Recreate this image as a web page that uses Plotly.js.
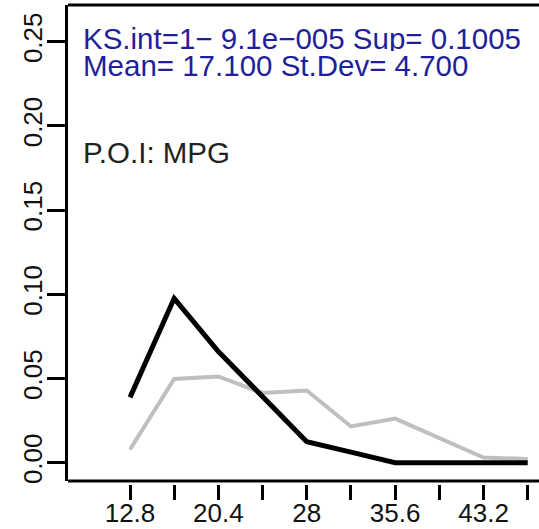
<!DOCTYPE html>
<html>
<head>
<meta charset="utf-8">
<script src="https://cdn.plot.ly/plotly-3.0.1.min.js"></script>
<style>
  html, body { margin: 0; padding: 0; background: #ffffff; }
  #chart { width: 539px; height: 529px; }
</style>
</head>
<body>
<div id="chart"></div>
<script>
// ---- data ----
const mpgValues = [12.8, 16.6, 20.4, 24.2, 28.0, 31.8, 35.6, 39.4, 43.2, 47.0];
const referenceDensity = [0.0078, 0.0497, 0.0512, 0.0414, 0.0429, 0.0215, 0.0262, 0.0145, 0.0031, 0.0022];
const subgroupDensity = [0.0388, 0.0976, 0.066, 0.039, 0.0125, 0.0063, 0.0, 0.0, 0.0, 0.0];
const xTickLabels = ['12.8', '', '20.4', '', '28', '', '35.6', '', '43.2', ''];
const yTickValues = [0.00, 0.05, 0.10, 0.15, 0.20, 0.25];
const yTickLabels = ['0.00', '0.05', '0.10', '0.15', '0.20', '0.25'];
const statLine1 = 'KS.int=1\u2212 9.1e\u2212005 Sup= 0.1005';
const statLine2 = 'Mean= 17.100 St.Dev= 4.700';
const poiLabel = 'P.O.I: MPG';

const FONT = 'Liberation Sans, Arial, Helvetica, sans-serif';
const W = 539, H = 529;
const M = {l: 68, r: 0, t: 5, b: 45};
const plotH = H - M.t - M.b;           // paper height in px
const yDomBottom = 3 / plotH;          // box bottom line slightly above tick start
const py = (px) => (H - M.b - px) / plotH; // pixel y -> paper fraction
const pxX = (px) => (px - M.l) / (W - M.l - M.r);

const traces = [
  {
    x: mpgValues, y: referenceDensity, type: 'scatter', mode: 'lines',
    line: {color: '#bfbfbf', width: 4},
    hoverinfo: 'skip', showlegend: false
  },
  {
    x: mpgValues, y: subgroupDensity, type: 'scatter', mode: 'lines',
    line: {color: '#000000', width: 5},
    hoverinfo: 'skip', showlegend: false
  }
];

const layout = {
  width: W, height: H,
  margin: M,
  paper_bgcolor: '#ffffff', plot_bgcolor: '#ffffff',
  showlegend: false,
  font: {family: FONT, color: '#000000'},
  xaxis: {
    range: [7.469, 47.97],
    anchor: 'free', position: 0,
    tickmode: 'array', tickvals: mpgValues, ticktext: xTickLabels,
    ticks: 'outside', ticklen: 15, tickwidth: 3, tickcolor: '#000000',
    ticklabelstandoff: -9,
    showline: false, showgrid: false, zeroline: false,
    tickfont: {family: FONT, size: 26, color: '#111111'},
    fixedrange: true
  },
  yaxis: {
    domain: [yDomBottom, 1],
    range: [-0.01087, 0.2718],
    tickmode: 'array', tickvals: yTickValues, ticktext: yTickLabels,
    tickangle: -90,
    ticks: 'outside', ticklen: 18, tickwidth: 3, tickcolor: '#000000',
    ticklabelstandoff: -5,
    showline: true, linewidth: 3, linecolor: '#000000',
    showgrid: false, zeroline: false,
    tickfont: {family: FONT, size: 26, color: '#111111'},
    fixedrange: true
  },
  shapes: [
    {type: 'line', xref: 'paper', yref: 'paper', x0: 0, x1: 1, y0: 1, y1: 1,
     line: {color: '#000000', width: 3}},
    {type: 'line', xref: 'paper', yref: 'paper', x0: 0, x1: 1, y0: yDomBottom, y1: yDomBottom,
     line: {color: '#000000', width: 3}}
  ],
  annotations: [
    {text: statLine1, xref: 'paper', yref: 'paper', x: pxX(81), y: py(38),
     xanchor: 'left', yanchor: 'middle', showarrow: false, height: 26, valign: 'middle',
     font: {family: FONT, size: 29.5, color: '#1f1f9c'}},
    {text: statLine2, xref: 'paper', yref: 'paper', x: pxX(81), y: py(64.5),
     xanchor: 'left', yanchor: 'middle', showarrow: false, height: 26, valign: 'middle',
     font: {family: FONT, size: 29.5, color: '#1f1f9c'}},
    {text: poiLabel, xref: 'paper', yref: 'paper', x: pxX(81), y: py(152),
     xanchor: 'left', yanchor: 'middle', showarrow: false,
     font: {family: FONT, size: 29.5, color: '#222222'}}
  ]
};

Plotly.newPlot('chart', traces, layout, {displayModeBar: false, staticPlot: true});
</script>
</body>
</html>
